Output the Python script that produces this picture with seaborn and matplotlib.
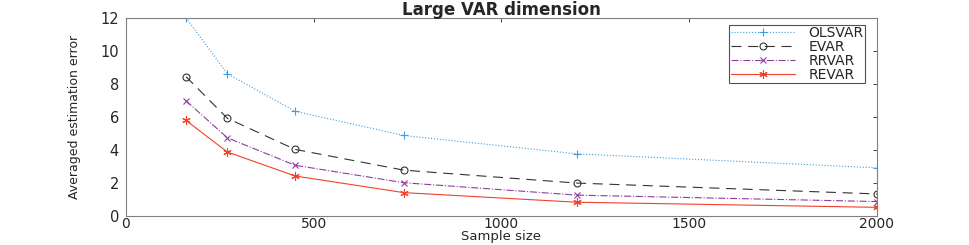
import seaborn as sns
import matplotlib.pyplot as plt
import pandas as pd

sample_size = [160, 270, 450, 740, 1200, 2000]
olsvar = [12.0, 8.62, 6.35, 4.88, 3.77, 2.92]
evar = [8.44, 5.92, 4.04, 2.78, 2.0, 1.34]
rrvar = [6.98, 4.74, 3.08, 2.02, 1.27, 0.88]
revar = [5.79, 3.88, 2.43, 1.42, 0.84, 0.53]

names = ["OLSVAR", "EVAR", "RRVAR", "REVAR"]
series = [olsvar, evar, rrvar, revar]

sns.set_theme(style="white")
plt.rcParams['font.family'] = ['DejaVu Sans']

rows = []
for nm, vals in zip(names, series):
    for x, y in zip(sample_size, vals):
        rows.append({"n": x, "err": y, "method": nm})
df = pd.DataFrame(rows)

styles = {
    "OLSVAR": dict(color="#3d9ee0", linestyle=":", marker="+", ms=6),
    "EVAR": dict(color="#333333", linestyle=(0, (9, 6)), marker="o", ms=5),
    "RRVAR": dict(color="#8e3d9e", linestyle="-.", marker="x", ms=5),
    "REVAR": dict(color="#f2402c", linestyle="-", marker=(6, 2, 0), ms=6),
}

fig = plt.figure(figsize=(9.69, 2.45), dpi=100)
ax = fig.add_axes([0.130, 0.118, 0.775, 0.809])

for nm in names:
    st = styles[nm]
    sub = df[df["method"] == nm]
    sns.lineplot(data=sub, x="n", y="err", ax=ax, label=nm, color=st["color"],
                 linestyle=st["linestyle"], marker=st["marker"], markersize=st["ms"],
                 markerfacecolor="none", markeredgecolor=st["color"],
                 linewidth=0.8, markeredgewidth=0.8)

ax.set_xlim(0, 2000)
ax.set_ylim(0, 12)
ax.set_xticks([0, 500, 1000, 1500, 2000])
ax.set_yticks([0, 2, 4, 6, 8, 10, 12])
ax.tick_params(direction="in", length=3, width=0.6, colors="#262626",
               labelsize=10, top=True, right=True, pad=1)
ax.tick_params(axis="y", labelsize=10.5, pad=5)
for sp in ax.spines.values():
    sp.set_color("#808080")
    sp.set_linewidth(0.8)
ax.set_xlabel("Sample size", fontsize=9.5, labelpad=-1)
ax.set_ylabel("Averaged estimation error", fontsize=9, labelpad=14)
ax.set_title("Large VAR dimension", fontsize=12, fontweight="bold", pad=2)

leg = ax.legend(loc="upper right", bbox_to_anchor=(0.988, 0.98), fontsize=10,
                frameon=True, fancybox=False, edgecolor="#262626",
                borderpad=0.1, labelspacing=0.0, handlelength=4.6,
                handletextpad=1.0, borderaxespad=0.2)
leg.get_frame().set_linewidth(0.8)

fig.savefig("out.png", dpi=100)
